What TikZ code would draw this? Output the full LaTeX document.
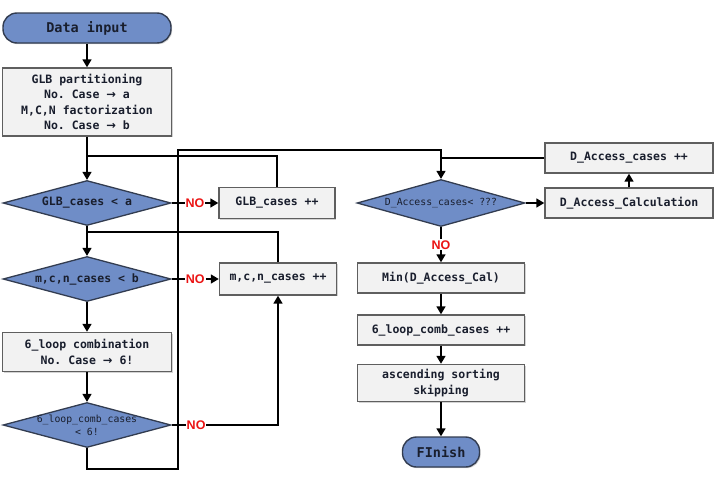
\documentclass[tikz,border=0pt]{standalone}
\usepackage{fontspec}
\setmonofont{DejaVu Sans Mono}
\newfontfamily\nofont{Liberation Sans}
\newfontfamily\arrfont{DejaVu Sans}
\newcommand{\rarr}{{\arrfont\bfseries →}}
\usetikzlibrary{shapes.geometric,arrows.meta,shadows}
\definecolor{dblue}{RGB}{111,141,199}
\definecolor{dborder}{RGB}{50,60,80}
\definecolor{bfill}{RGB}{242,242,242}
\definecolor{bborder}{RGB}{95,95,95}
\definecolor{txt}{RGB}{25,30,45}
\definecolor{nored}{RGB}{235,20,20}
\tikzset{
  boxtext/.style={font=\ttfamily\bfseries\fontsize{11.5}{15.5}\selectfont, text=txt, align=center},
  procbox/.style={draw=bborder, line width=1.4pt, fill=bfill, rectangle, inner sep=0pt, boxtext,
    drop shadow={shadow xshift=1.2pt, shadow yshift=-1.2pt, opacity=0.35}},
  pill/.style={draw=dborder, line width=1.4pt, fill=dblue, rectangle, rounded corners=14pt, inner sep=0pt,
    font=\ttfamily\bfseries\fontsize{13.5}{16}\selectfont, text=txt,
    drop shadow={shadow xshift=1.2pt, shadow yshift=-1.2pt, opacity=0.35}},
  decide/.style={draw=dborder, line width=1.3pt, fill=dblue, diamond, inner sep=0pt,
    minimum width=168pt, minimum height=45pt},
  dtext/.style={font=\ttfamily\bfseries\fontsize{11.5}{14}\selectfont, text=txt, align=center},
  dsmall/.style={font=\ttfamily\fontsize{9.8}{13}\selectfont, text=txt, align=center},
  flow/.style={line width=1.6pt, draw=black},
  arr/.style={flow, -{Triangle[length=8pt,width=9pt]}},
  nolabel/.style={font=\nofont\bfseries\fontsize{12.5}{14}\selectfont, text=nored, fill=white, inner sep=1pt},
  jdot/.style={fill=black, draw=none}
}
\begin{document}
\begin{tikzpicture}[x=1pt,y=-1pt]
\useasboundingbox (0,0) rectangle (714,482);
% nodes
\node[pill, minimum width=168pt, minimum height=30pt] (start) at (87,28) {Data input};
\node[procbox, minimum width=169pt, minimum height=68pt] (glb) at (87,102)
  {GLB partitioning\\No. Case \rarr{} a\\M,C,N factorization\\No. Case \rarr{} b};
\node[decide, label={[dtext]center:GLB\_cases < a}] (d1) at (87,203) {};
\node[procbox, minimum width=116pt, minimum height=31pt] (glbpp) at (277,203) {GLB\_cases ++};
\node[decide, label={[dtext]center:m,c,n\_cases < b}] (d2) at (87,279) {};
\node[procbox, minimum width=117pt, minimum height=32pt] (mcnpp) at (278,279) {m,c,n\_cases ++};
\node[procbox, minimum width=169pt, minimum height=39pt] (loop6) at (87,352)
  {6\_loop combination\\No. Case \rarr{} 6!};
\node[decide, label={[dsmall]center:6\_loop\_comb\_cases\\< 6!}] (d3) at (87,425) {};
\node[decide, minimum height=47pt, label={[dsmall]center:D\_Access\_cases< ???}] (d4) at (441,203) {};
\node[procbox, minimum width=168pt, minimum height=30pt] (calc) at (629,203) {D\_Access\_Calculation};
\node[procbox, minimum width=168pt, minimum height=30pt] (dpp) at (629,158) {D\_Access\_cases ++};
\node[procbox, minimum width=167pt, minimum height=30pt] (min) at (441,278) {Min(D\_Access\_Cal)};
\node[procbox, minimum width=167pt, minimum height=30pt] (lpp) at (441,330) {6\_loop\_comb\_cases ++};
\node[procbox, minimum width=167pt, minimum height=37pt] (asc) at (441,383) {ascending sorting\\skipping};
\node[pill, minimum width=77pt, minimum height=30pt] (fin) at (441,452) {FInish};
% helper coordinates
\coordinate (j1) at (87,156);
\coordinate (j2) at (87,232);
\coordinate (b1) at (178,469);
\coordinate (t1) at (178,150);
% connectors
\draw[arr] (start) -- (glb);
\draw[arr] (glb) -- (d1);
\draw[flow] (glbpp.north) |- (j1);
\draw[arr] (d1.east) -- node[nolabel]{NO} (glbpp.west);
\draw[arr] (d1) -- (d2);
\draw[flow] (mcnpp.north) |- (j2);
\draw[arr] (d2.east) -- node[nolabel]{NO} (mcnpp.west);
\draw[arr] (d2) -- (loop6);
\draw[arr] (loop6) -- (d3);
\draw[arr] (d3.east) -- node[nolabel, pos=0.23]{NO} (mcnpp.south |- d3.east) -- (mcnpp.south);
\draw[arr] (d3.south) |- (b1) -- (t1) -| (d4.north);
\draw[flow] (dpp.west) -- (dpp.west -| d4.north);
\draw[arr] (d4.east) -- (calc.west);
\draw[arr] (calc) -- (dpp);
\draw[arr] (d4) -- node[nolabel]{NO} (min);
\draw[arr] (min) -- (lpp);
\draw[arr] (lpp) -- (asc);
\draw[arr] (asc) -- (fin);
% crossing dots
\foreach \yy in {156,203,232,279,425} \fill[jdot] (178,\yy) circle (1.8pt);
\end{tikzpicture}
\end{document}
